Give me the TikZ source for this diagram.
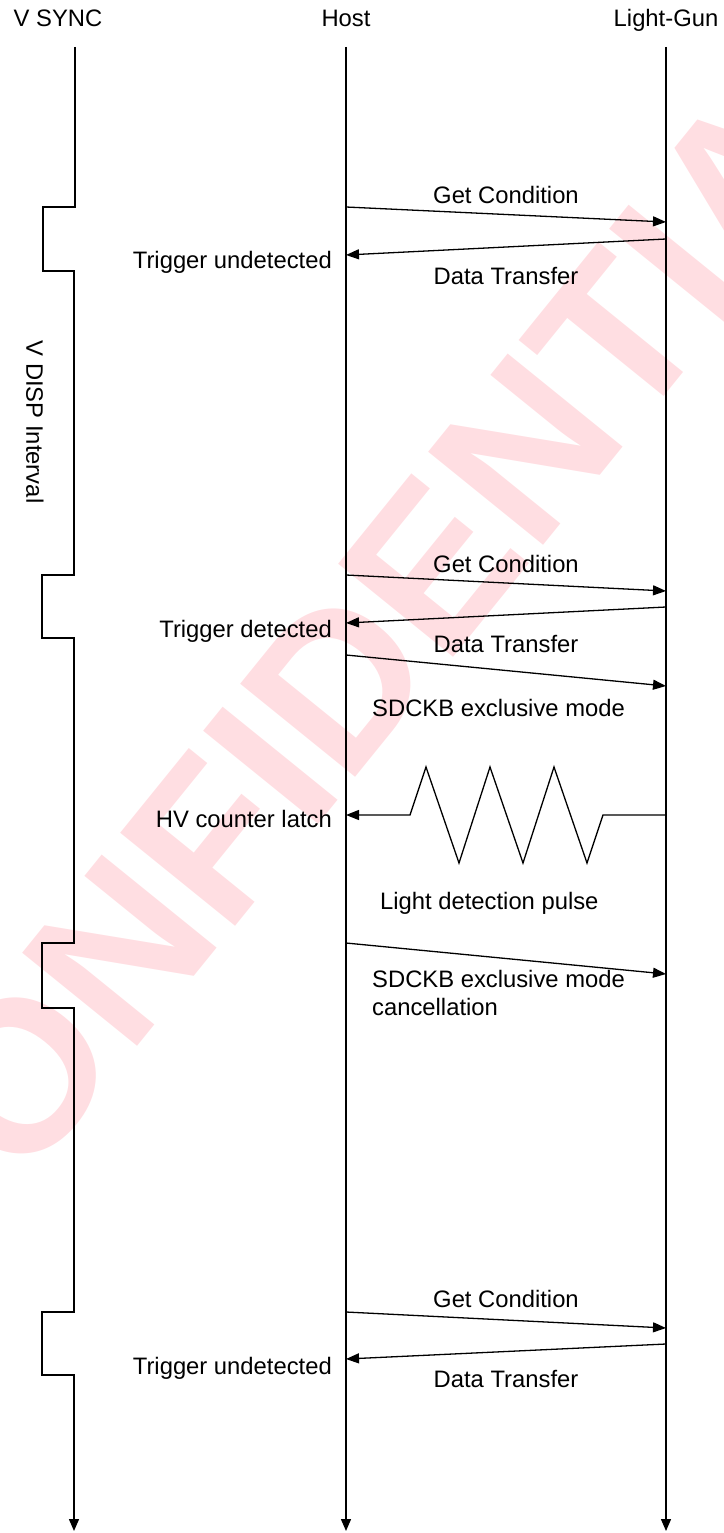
\documentclass[tikz,border=0pt]{standalone}
\usepackage{fontspec}
\setmainfont{Liberation Sans}
\usetikzlibrary{arrows.meta}
\definecolor{wmark}{RGB}{255,222,226}
\begin{document}
\begin{tikzpicture}[x=1pt,y=-1pt,
  lbl/.style={inner sep=0pt,font=\fontsize{23.8}{28}\selectfont},
  life/.style={line width=1.4pt,-{Triangle[length=12pt,width=10pt]}},
  msg/.style={line width=1.3pt,-{Triangle[length=13pt,width=10pt]}}]
\useasboundingbox (0,0) rectangle (723,1533);
% watermark
\begin{scope}
\clip (0,0) rectangle (723,1533);
\node[inner sep=0pt,text=wmark,rotate=51,font=\fontsize{215}{215}\selectfont\bfseries] (wm) at (372,640) {CONFIDENTIAL};
\end{scope}
% headers
\node[lbl,anchor=base] (hv) at (58,27) {V SYNC};
\node[lbl,anchor=base] (hh) at (346,27) {Host};
\node[lbl,anchor=base] (hl) at (666,27) {Light-Gun};
% lifeline ends
\coordinate (htop) at (346,47);
\coordinate (hbot) at (346,1531);
\coordinate (ltop) at (666,47);
\coordinate (lbot) at (666,1531);
\coordinate (vtop) at (75,47);
\coordinate (vbot) at (74,1531);
\draw[life] (htop) -- (hbot);
\draw[life] (ltop) -- (lbot);
\draw[life] (vtop) -- (75,207) -- (43,207) -- (43,271) -- (74,271) -- (74,575) -- (42,575) -- (42,638) -- (74,638)
  -- (74,943) -- (42,943) -- (42,1008) -- (74,1008) -- (74,1312) -- (42,1312) -- (42,1375) -- (74,1375) -- (vbot);
\node[lbl,rotate=-90] (vdisp) at (35,422) {V DISP Interval};
% group 1
\coordinate (g1a) at (346,207); \coordinate (g1b) at (666,222);
\coordinate (d1a) at (666,239); \coordinate (d1b) at (346,255);
\draw[msg] (g1a) -- (g1b);
\draw[msg] (d1a) -- (d1b);
\node[lbl,anchor=base] (t1) at (506,204) {Get Condition};
\node[lbl,anchor=base] (t2) at (506,284) {Data Transfer};
\node[lbl,anchor=base east] (t3) at (332,268) {Trigger undetected};
% group 2
\coordinate (g2a) at (346,575); \coordinate (g2b) at (666,591);
\coordinate (d2a) at (666,607); \coordinate (d2b) at (346,623);
\coordinate (s2a) at (346,655); \coordinate (s2b) at (666,686);
\draw[msg] (g2a) -- (g2b);
\draw[msg] (d2a) -- (d2b);
\draw[msg] (s2a) -- (s2b);
\node[lbl,anchor=base] (t4) at (506,572) {Get Condition};
\node[lbl,anchor=base east] (t5) at (332,637) {Trigger detected};
\node[lbl,anchor=base] (t6) at (506,652) {Data Transfer};
\node[lbl,anchor=base west] (t7) at (372,716) {SDCKB exclusive mode};
% light pulse
\coordinate (pa) at (666,815); \coordinate (pb) at (346,815);
\draw[msg] (pa) -- (603,815) -- (587,863) -- (554,767) -- (523,863) -- (490,767) -- (459,863) -- (426,767) -- (410,815) -- (pb);
\node[lbl,anchor=base east] (t8) at (332,827) {HV counter latch};
\node[lbl,anchor=base west] (t9) at (380,909) {Light detection pulse};
% cancellation
\coordinate (c1a) at (346,943); \coordinate (c1b) at (666,974);
\draw[msg] (c1a) -- (c1b);
\node[lbl,anchor=base west] (t10) at (372,987) {SDCKB exclusive mode};
\node[lbl,anchor=base west] (t10b) at (372,1015) {cancellation};
% group 4
\coordinate (g4a) at (346,1312); \coordinate (g4b) at (666,1328);
\coordinate (d4a) at (666,1344); \coordinate (d4b) at (346,1359);
\draw[msg] (g4a) -- (g4b);
\draw[msg] (d4a) -- (d4b);
\node[lbl,anchor=base] (t11) at (506,1307) {Get Condition};
\node[lbl,anchor=base east] (t12) at (332,1374) {Trigger undetected};
\node[lbl,anchor=base] (t13) at (506,1387) {Data Transfer};
\end{tikzpicture}
\end{document}
